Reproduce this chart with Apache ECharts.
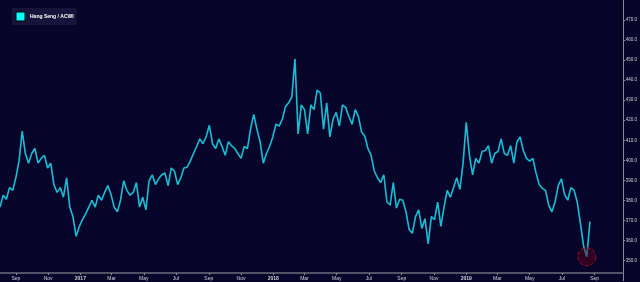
<!DOCTYPE html>
<html>
<head>
<meta charset="utf-8">
<script src="https://cdn.jsdelivr.net/npm/echarts@6/dist/echarts.min.js"></script>
<style>
html,body{margin:0;padding:0;background:#08052a;}
#chart{width:640px;height:282px;}
</style>
</head>
<body>
<div id="chart"></div>
<script>
// Series name
const seriesName = 'Hang Seng / ACWI';
// First observation date and spacing (days) between observations
const startDate = Date.UTC(2016, 7, 2);
const stepDays = 6;
// Ratio values
const values = [
376.7,382.6,380.6,386.4,385.0,391.3,399.6,414.6,403.4,398.6,
403.4,405.9,398.6,401.0,402.5,396.2,398.6,387.9,384.0,386.4,
381.6,391.3,376.7,371.9,362.1,367.0,370.4,373.3,376.7,380.1,
376.7,382.6,380.1,384.0,387.4,383.0,376.7,374.3,380.1,389.8,
385.0,382.6,384.0,388.9,376.7,381.6,375.3,389.8,392.8,387.9,
390.8,392.8,393.7,387.4,396.2,394.7,387.9,391.3,396.2,396.6,
399.6,403.4,406.9,410.7,408.3,411.7,417.5,408.3,405.9,410.7,
406.9,402.5,409.3,407.3,405.9,403.4,401.0,406.9,405.9,415.6,
422.9,415.6,409.3,398.6,403.4,406.9,411.7,418.0,417.1,420.5,
426.8,428.7,431.6,450.6,413.2,427.7,425.3,413.2,427.7,425.3,
435.0,433.6,415.6,428.7,411.7,420.5,423.9,417.1,427.7,426.3,
421.9,418.0,425.3,421.9,414.1,412.2,405.9,402.5,394.7,391.3,
388.9,392.8,379.2,377.7,388.9,376.2,380.6,380.1,374.3,365.5,
363.6,371.9,375.3,366.0,370.9,358.3,371.9,370.4,379.2,367.0,
376.7,385.0,381.6,386.4,391.3,385.5,398.6,419.0,402.5,392.8,
401.0,398.6,404.4,404.9,407.3,398.6,403.4,404.4,410.7,403.4,
402.5,407.3,398.6,409.3,411.7,404.9,401.0,399.6,401.0,393.7,
387.9,386.0,385.0,377.7,374.3,379.2,387.4,390.8,383.0,380.1,
386.4,385.0,379.2,368.5,357.3,351.9,369.4
];
// Index of the circled low point
const circledIndex = 185;
// Axis ranges
const xMin = Date.UTC(2016, 7, 2);
const xMax = Date.UTC(2019, 9, 25);
const yMin = 340, yMax = 480, yStep = 10;

const DAY = 86400000;
const seriesData = values.map((v, i) => [startDate + i * stepDays * DAY, v]);

const chart = echarts.init(document.getElementById('chart'), null, {renderer: 'canvas'});
chart.setOption({
  backgroundColor: '#08052a',
  animation: false,
  grid: {left: 0, right: 15, top: -7.6, bottom: 1.4, containLabel: false},
  legend: {
    left: 12, top: 8,
    backgroundColor: '#17143b',
    padding: [3.5, 3, 3.5, 3.5],
    itemWidth: 9, itemHeight: 9, itemGap: 4,
    icon: 'rect',
    textStyle: {color: '#ffffff', fontSize: 5, fontWeight: 'bold', fontFamily: 'Liberation Sans, Arial, sans-serif'},
    data: [{name: seriesName, itemStyle: {color: '#00ffff', borderColor: '#000', borderWidth: 1}}]
  },
  xAxis: {
    type: 'time',
    min: xMin, max: xMax,
    splitNumber: 19,
    offset: -7.6,
    axisLine: {show: true, lineStyle: {color: '#6e6e7a', width: 1.5}},
    axisTick: {show: true, length: 2, inside: false, lineStyle: {color: '#8a8a95'}},
    splitLine: {show: false},
    axisLabel: {
      color: '#cfcfd6', fontSize: 5, margin: 3,
      fontFamily: 'Liberation Sans, Arial, sans-serif',
      showMinLabel: false, showMaxLabel: false, hideOverlap: false
    }
  },
  yAxis: {
    type: 'value',
    position: 'right',
    min: yMin, max: yMax, interval: yStep,
    axisLine: {show: true, lineStyle: {color: '#8a8a95', width: 1}},
    axisTick: {show: true, length: 2, lineStyle: {color: '#8a8a95'}},
    splitLine: {show: false},
    axisLabel: {
      color: '#cfcfd6', fontSize: 4.5, margin: 2.5,
      fontFamily: 'Liberation Sans, Arial, sans-serif',
      showMinLabel: false, showMaxLabel: false,
      formatter: v => v.toFixed(1)
    }
  },
  series: [{
    name: seriesName,
    type: 'line',
    data: seriesData,
    showSymbol: false,
    symbol: 'none',
    lineStyle: {color: '#17bfd6', width: 1.6},
    itemStyle: {color: '#17bfd6'},
    markPoint: {
      symbol: 'circle',
      symbolSize: 18,
      silent: true,
      label: {show: false},
      itemStyle: {color: 'rgba(95,0,25,0.45)', borderColor: '#a80e2a', borderType: 'dashed', borderWidth: 1},
      data: [{coord: seriesData[circledIndex]}]
    }
  }]
});
</script>
</body>
</html>
